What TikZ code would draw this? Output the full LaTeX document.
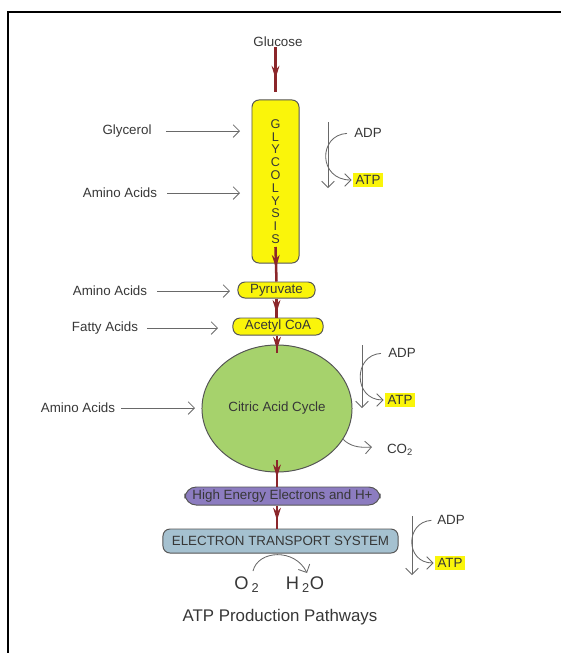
\documentclass[tikz,border=0pt]{standalone}
\usepackage{fontspec}
\setmainfont{Liberation Sans}
\usetikzlibrary{shapes.geometric,arrows.meta,decorations.markings}

\definecolor{flowred}{RGB}{139,38,42}
\definecolor{glyyellow}{RGB}{250,245,10}
\definecolor{cycgreen}{RGB}{166,210,108}
\definecolor{hepurple}{RGB}{140,124,192}
\definecolor{etsblue}{RGB}{165,193,208}
\definecolor{edgegray}{RGB}{85,85,85}
\definecolor{feedgray}{RGB}{105,105,105}
\definecolor{txtgray}{RGB}{55,55,55}

\tikzset{
  lbl/.style={text=txtgray, inner sep=0pt, font=\fontsize{9.5}{11}\selectfont},
  feed/.style={draw=feedgray, line width=0.6pt, -{Straight Barb[length=4.5pt,width=9pt]}},
  flow/.style={color=flowred, line width=1.8pt, postaction={decorate},
    decoration={markings, mark=at position #1 with {\arrow{Stealth[length=9pt,width=5.5pt]}}}},
  flow/.default=0.6,
  stepbox/.style={draw=edgegray, line width=0.7pt, rounded corners=5pt, inner sep=0pt,
    text=txtgray, font=\fontsize{9.5}{11}\selectfont},
  atpmark/.style={fill=glyyellow, text=txtgray, inner sep=1.6pt, font=\fontsize{9.5}{11}\selectfont},
}

\begin{document}
\begin{tikzpicture}[x=0.025cm, y=-0.025cm]
    \useasboundingbox (0,0) rectangle (561,653);
    \draw [line width=1.4pt] (8,653) -- (8,12) -- (561,12);

    % main pathway
    \node [lbl] (glucose) at (278,42) {Glucose};
    \node [stepbox, fill=glyyellow, minimum width=1.175cm, minimum height=4.075cm,
      align=center, font=\fontsize{9}{9.1}\selectfont] (glyc) at (275.5,181.5)
      {G\\L\\Y\\C\\O\\L\\Y\\S\\I\\S};
    \node [stepbox, fill=glyyellow, minimum width=1.925cm, minimum height=0.4cm] (pyr) at (276.5,290) {Pyruvate};
    \node [stepbox, fill=glyyellow, minimum width=2.25cm, minimum height=0.425cm] (acoa) at (278,326.5) {Acetyl CoA};
    \node [ellipse, draw=edgegray, line width=0.7pt, fill=cycgreen, minimum width=3.75cm,
      minimum height=3.175cm, inner sep=0pt, text=txtgray, font=\fontsize{9.5}{11}\selectfont] (cac) at (277,408.5) {Citric Acid Cycle};
    \node [stepbox, fill=hepurple, rounded corners=8pt, minimum width=4.875cm, minimum height=0.45cm] (hee) at (282.5,496) {High Energy Electrons and H+};
    \node [stepbox, fill=etsblue, minimum width=5.875cm, minimum height=0.6cm] (ets) at (280.5,541) {ELECTRON TRANSPORT SYSTEM};

    \coordinate (glyc-out) at (275.5,247);
    \coordinate (cac-in) at (277,353);
    \coordinate (cac-out) at (277,460);

    \draw [flow=0.6, shorten >=5.5pt] (glyc.north |- glucose.south) -- (glyc.north);
    \draw [flow=0.6] (glyc-out) -- (pyr.north);
    \draw [flow=0.75] (pyr.south) -- (pyr.south |- acoa.north);
    \draw [flow=0.8] (cac-in |- acoa.south) -- (cac-in);
    \draw [flow=0.65] (cac-out) -- (cac-out |- hee.north);
    \draw [flow=0.65] (cac-out |- hee.south) -- (cac-out |- ets.north);

    % side inputs
    \node [lbl] (glycerol) at (127,131) {Glycerol};
    \node [lbl] (amino-gly) at (120,193) {Amino Acids};
    \node [lbl] (amino-pyr) at (110,291) {Amino Acids};
    \node [lbl] (fatty) at (105,328) {Fatty Acids};
    \node [lbl] (amino-cac) at (78,408) {Amino Acids};

    \coordinate (glycerol-in) at (240,131);
    \coordinate (amino-gly-in) at (240,193);
    \coordinate (amino-pyr-in) at (230,291);
    \coordinate (fatty-in) at (218,328);
    \coordinate (amino-cac-in) at (195,408);

    \draw [feed, shorten <=10pt] (glycerol) -- (glycerol-in);
    \draw [feed, shorten <=7pt] (amino-gly) -- (amino-gly-in);
    \draw [feed, shorten <=7pt] (amino-pyr) -- (amino-pyr-in);
    \draw [feed, shorten <=6pt] (fatty) -- (fatty-in);
    \draw [feed, shorten <=4pt] (amino-cac) -- (amino-cac-in);

    % ADP -> ATP at glycolysis
    \node [lbl] (adp-gly) at (368,133) {ADP};
    \node [atpmark] (atp-gly) at (368,180) {ATP};
    \coordinate (down-gly-a) at (328,122);
    \coordinate (down-gly-b) at (328,188);
    \draw [feed] (down-gly-a) -- (down-gly-b);
    \draw [feed, shorten <=5pt, shorten >=1pt] (adp-gly.west) .. controls (318,135) and (318,180) .. (atp-gly.west);

    % ADP -> ATP at citric acid cycle
    \node [lbl] (adp-cac) at (402,353) {ADP};
    \node [atpmark] (atp-cac) at (400,400) {ATP};
    \coordinate (down-cac-a) at (362,345);
    \coordinate (down-cac-b) at (362,408);
    \draw [feed] (down-cac-a) -- (down-cac-b);
    \draw [feed, shorten <=5pt, shorten >=1pt] (adp-cac.west) .. controls (353,355) and (353,400) .. (atp-cac.west);

    % CO2 release
    \node [lbl] (co2) at (400,450) {CO\textsubscript{2}};
    \coordinate (co2-tip) at (372,447);
    \draw [feed] (cac.-25) .. controls (350,446) and (358,448) .. (co2-tip);

    % ADP -> ATP at electron transport
    \node [lbl] (adp-ets) at (451,520) {ADP};
    \node [atpmark] (atp-ets) at (450,563) {ATP};
    \coordinate (down-ets-a) at (412,516);
    \coordinate (down-ets-b) at (412,575);
    \draw [feed] (down-ets-a) -- (down-ets-b);
    \draw [feed, shorten <=4pt, shorten >=1pt] (adp-ets.west) .. controls (405,522) and (405,563) .. (atp-ets.west);

    % oxygen to water
    \node [lbl, font=\fontsize{13}{15}\selectfont] (o2) at (247,585) {O\,\textsubscript{2}};
    \node [lbl, font=\fontsize{13}{15}\selectfont] (h2o) at (305,585) {H\,\textsubscript{2}O};
    \coordinate (o2-top) at (253,571);
    \coordinate (h2o-top) at (307,573);
    \draw [feed] (o2-top) .. controls (258,550) and (295,548) .. (h2o-top);

    \node [text=txtgray, font=\fontsize{12}{15}\selectfont] (title) at (280,617) {ATP Production Pathways};
\end{tikzpicture}
\end{document}
